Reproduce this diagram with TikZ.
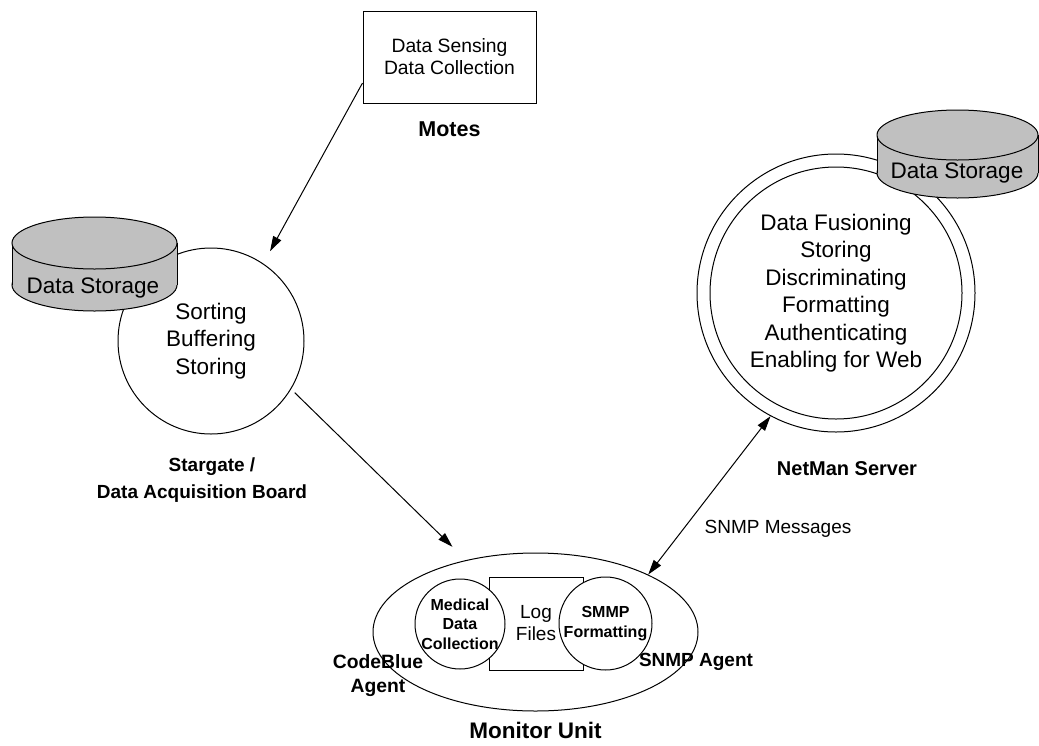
\documentclass[tikz,border=0pt]{standalone}
\usepackage{fontspec}
\setmainfont{Liberation Sans}
\usetikzlibrary{positioning,arrows.meta,shapes.geometric}

\definecolor{storegray}{RGB}{192,192,192}
\newcommand{\fsz}[2]{\fontsize{#1}{#2}\selectfont}

\begin{document}
\begin{tikzpicture}[
    x=1pt, y=-1pt,
    line width=1pt,
    every node/.style={align=center, inner sep=0pt},
    unit/.style={
        draw,
        circle,
        fill=white,
        inner sep=-20pt,
        font=\fsz{22.5}{27.5}
    },
    agent/.style={
        draw,
        circle,
        fill=white,
        inner sep=-20pt,
        font=\bfseries\fsz{16}{19.5}
    },
    box/.style={
        draw,
        fill=white
    },
    store/.style={
        draw,
        fill=storegray
    },
    tag/.style={font=\bfseries\fsz{20}{27}},
    arrow/.style={
        -{Triangle[length=15pt,width=9pt]}
    },
    twoway/.style={
        {Triangle[length=15pt,width=9pt]}-{Triangle[length=15pt,width=9pt]}
    }
]

\useasboundingbox (0,0) rectangle (1039,745);

% motes
\node[box, minimum width=173pt, minimum height=92pt, font=\fsz{19.3}{22}] (motes) at (449.5,57) {Data Sensing\\Data Collection};
\node[tag, font=\bfseries\fsz{21.5}{25}, below=18pt of motes] (moteslbl) {Motes};

% stargate
\node[unit, minimum size=186pt] (sorting) at (211,341) {Sorting\\Buffering\\Storing};

\filldraw[store] (94.5,285) ellipse [x radius=82.5, y radius=26];
\fill[storegray] (12,243) rectangle (177,285);
\draw (12,243) -- (12,285) (177,243) -- (177,285);
\filldraw[store] (94.5,243) ellipse [x radius=82.5, y radius=26];
\node[font=\fsz{22.5}{27}] (storeleft) at (93,288) {Data Storage};

\node[tag, font=\bfseries\fsz{19}{27}] (stargate) at (202,480) {\hspace*{20pt}Stargate /\\Data Acquisition Board};

% netman server
\node[draw, circle, fill=white, minimum size=278pt] (netman) at (836,293) {};
\node[unit, minimum size=252pt] (fusion) at (netman) {Data Fusioning\\Storing\\Discriminating\\Formatting\\Authenticating\\Enabling for Web};

\filldraw[store] (957.5,173) ellipse [x radius=80.5, y radius=25];
\fill[storegray] (877,135) rectangle (1038,173);
\draw (877,135) -- (877,173) (1038,135) -- (1038,173);
\filldraw[store] (957.5,135) ellipse [x radius=80.5, y radius=25];
\node[font=\fsz{22.5}{27}] (storeright) at (957,173) {Data Storage};

\node[tag, below=29pt of netman, xshift=11pt] (netmanlbl) {NetMan Server};

% monitor unit
\node[draw, ellipse, minimum width=325pt, minimum height=158pt] (monitor) at (535.5,632) {};
\node[box, minimum width=94pt, minimum height=93pt, font=\fsz{19}{22}] (logs) at (536,623.5) {Log\\Files};
\node[agent, minimum size=90pt] (medical) at (460,624) {Medical\\Data\\Collection};
\node[agent, minimum size=93pt] (smmp) at (605.5,623.5) {SMMP\\Formatting};

\node[tag, font=\bfseries\fsz{19.3}{24}] (codeblue) at (378,676) {CodeBlue\\Agent};
\node[tag, font=\bfseries\fsz{19}{24}] (snmpagent) at (696,662) {SNMP Agent};
\node[tag, font=\bfseries\fsz{22.5}{27}, below=10pt of monitor] (monitorlbl) {Monitor Unit};

\node[font=\fsz{19}{22}] (snmpmsg) at (778,529) {SNMP Messages};

% connectors
\draw[arrow, shorten >=14pt] ([yshift=-26pt]motes.west) -- (sorting.56);
\draw[arrow, shorten <=5pt, shorten >=19pt] (sorting.-31) -- (monitor.134);
\draw[twoway] (monitor.27) -- (netman.-118);

\end{tikzpicture}
\end{document}
